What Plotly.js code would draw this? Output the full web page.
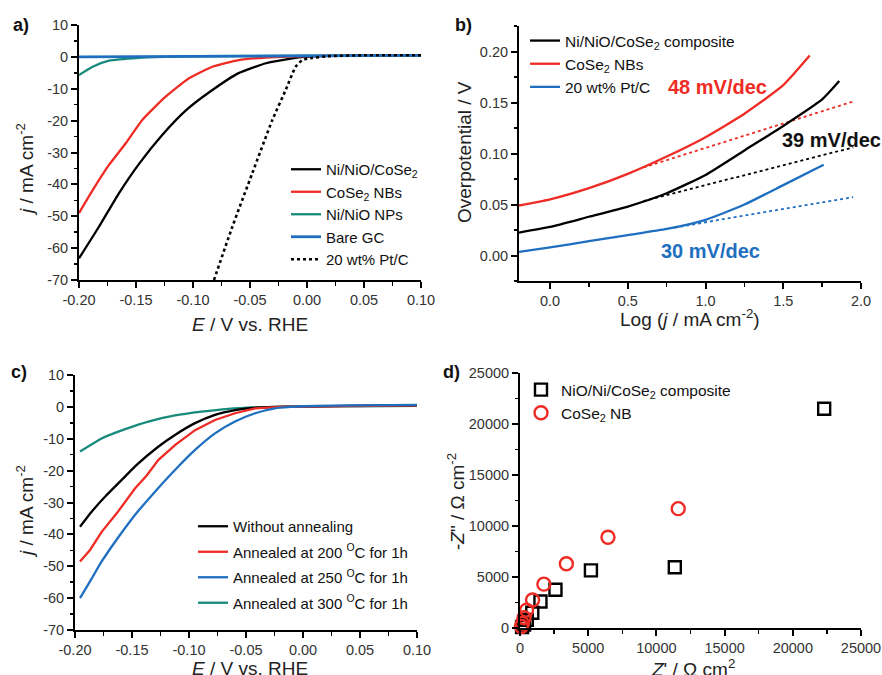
<!DOCTYPE html>
<html>
<head>
<meta charset="utf-8">
<script src="https://cdn.plot.ly/plotly-3.0.1.min.js"></script>
<style>html,body{margin:0;padding:0;background:#fff;}#chart{width:882px;height:675px;}</style>
</head>
<body>
<div id="chart"></div>
<script>
// ---------- Panel a: HER polarization curves ----------
const aE_comp = [-0.2,-0.1825,-0.165,-0.147,-0.127,-0.106,-0.083,-0.06,-0.036,-0.013,-0.005,0.02,0.05,0.1];
const aJ_comp = [-63.2,-53.3,-42.8,-33.4,-24.5,-16.7,-10.4,-5.1,-2.0,-0.45,-0.1,0.3,0.4,0.5];
const aE_nbs = [-0.2,-0.188,-0.1737,-0.159,-0.1445,-0.124,-0.1035,-0.083,-0.06,-0.036,-0.015,0.02,0.05,0.1];
const aJ_nbs = [-49,-41.8,-33.9,-27.1,-19.8,-12.5,-6.7,-3.1,-1.0,-0.2,0.1,0.3,0.4,0.5];
const aE_nio = [-0.2,-0.188,-0.1737,-0.1474,-0.125,-0.1,0,0.1];
const aJ_nio = [-5.7,-3.1,-1.2,-0.3,0,0.2,0.4,0.5];
const aE_gc = [-0.2,-0.1,0,0.1];
const aJ_gc = [0,0.1,0.3,0.5];
const aE_pt = [-0.0816,-0.0655,-0.048,-0.0304,-0.0187,-0.01,-0.004,0.0045,0.018,0.05,0.1];
const aJ_pt = [-70,-53.3,-36.5,-19.8,-10.4,-3.1,-1.0,-0.35,0.2,0.5,0.5];
const aXTicks = [-0.2,-0.15,-0.1,-0.05,0,0.05,0.1];
const aXTickText = ['-0.20','-0.15','-0.10','-0.05','0.00','0.05','0.10'];
const aYTicks = [10,0,-10,-20,-30,-40,-50,-60,-70];
const aYTickText = ['10','0','-10','-20','-30','-40','-50','-60','-70'];

// ---------- Panel b: Tafel plots ----------
const bX_comp = [-0.2,0,0.25,0.5,0.75,1.0,1.25,1.5,1.75,1.86];
const bY_comp = [0.0225,0.028,0.038,0.048,0.061,0.079,0.103,0.127,0.153,0.171];
const bX_nbs = [-0.2,0,0.25,0.5,0.75,1.0,1.25,1.5,1.67];
const bY_nbs = [0.049,0.055,0.066,0.080,0.097,0.116,0.139,0.167,0.196];
const bX_pt = [-0.2,0,0.25,0.5,0.75,1.0,1.25,1.5,1.76];
const bY_pt = [0.0035,0.008,0.014,0.020,0.026,0.035,0.050,0.069,0.089];
const bFitX_comp = [0.6,1.95];
const bFitY_comp = [0.0534,0.106];
const bFitX_nbs = [0.6,1.95];
const bFitY_nbs = [0.0863,0.151];
const bFitX_pt = [0.8,1.95];
const bFitY_pt = [0.0274,0.0573];
const bXTicks = [0,0.5,1,1.5,2];
const bXTickText = ['0.0','0.5','1.0','1.5','2.0'];
const bYTicks = [0,0.05,0.1,0.15,0.2];
const bYTickText = ['0.00','0.05','0.10','0.15','0.20'];
const bSlopes = ['48 mV/dec','39 mV/dec','30 mV/dec'];

// ---------- Panel c: annealing temperature ----------
const cE_none = [-0.1956,-0.1854,-0.1737,-0.159,-0.1459,-0.127,-0.1123,-0.0947,-0.0772,-0.0596,-0.045,-0.025,0,0.05,0.1];
const cJ_none = [-37.6,-32.9,-28.2,-22.9,-18.2,-12.5,-8.8,-5.1,-2.5,-1.0,-0.3,0,0.1,0.4,0.5];
const cE_200 = [-0.1956,-0.1868,-0.1766,-0.1634,-0.1474,-0.1371,-0.127,-0.1123,-0.0947,-0.0772,-0.0596,-0.042,-0.02,0,0.05,0.1];
const cJ_200 = [-48.5,-44.9,-39.2,-33.4,-25.6,-21.5,-16.7,-12,-7.3,-4.1,-2.0,-0.45,0,0.1,0.4,0.5];
const cE_250 = [-0.1956,-0.1854,-0.1766,-0.162,-0.1474,-0.1298,-0.1123,-0.0947,-0.0772,-0.0596,-0.042,-0.0246,-0.01,0,0.05,0.1];
const cJ_250 = [-60,-53.9,-48.5,-40.9,-33.9,-26.6,-19.8,-13.5,-8.3,-4.6,-2.0,-0.45,0,0.2,0.5,0.6];
const cE_300 = [-0.1956,-0.1766,-0.156,-0.1357,-0.1123,-0.089,-0.0655,-0.042,-0.02,0,0.05,0.1];
const cJ_300 = [-14,-9.9,-7.0,-4.6,-2.7,-1.5,-0.6,-0.15,0,0.1,0.2,0.3];
const cXTicks = aXTicks, cXTickText = aXTickText;
const cYTicks = aYTicks, cYTickText = aYTickText;

// ---------- Panel d: Nyquist plots ----------
const dZre_comp = [22300,11350,5200,2600,1500,900,500,300,150];
const dZim_comp = [21500,5950,5650,3750,2600,1500,800,350,100];
const dZre_nbs = [11600,6450,3400,1750,920,480,300,180,100];
const dZim_nbs = [11700,8900,6300,4300,2750,1750,1000,450,150];
const dTicks = [0,5000,10000,15000,20000,25000];
const dTickText = ['0','5000','10000','15000','20000','25000'];

const BLACK='#000000', RED='#ee2b24', TEAL='#178a7c', BLUE='#1f6fc0';
const FONT='Liberation Sans, Arial, sans-serif';
const W=882, H=675;
const px = v => v/W, py = v => 1 - v/H;

function ln(x,y,color,name,xa,ya,leg,extra){
  return Object.assign({type:'scatter',mode:'lines',x:x,y:y,name:name,xaxis:xa,yaxis:ya,legend:leg,
    line:{color:color,width:2.3,shape:'spline',smoothing:0.5},hoverinfo:'skip'},extra||{});
}

const traces = [
  ln(aE_comp,aJ_comp,BLACK,'Ni/NiO/CoSe<sub>2</sub>','x','y','legend'),
  ln(aE_nbs,aJ_nbs,RED,'CoSe<sub>2</sub> NBs','x','y','legend'),
  ln(aE_nio,aJ_nio,TEAL,'Ni/NiO NPs','x','y','legend'),
  ln(aE_gc,aJ_gc,BLUE,'Bare GC','x','y','legend',{line:{color:BLUE,width:2.8}}),
  ln(aE_pt,aJ_pt,BLACK,'20 wt% Pt/C','x','y','legend',{line:{color:BLACK,width:2.6,dash:'dot',shape:'spline',smoothing:0.5}}),

  ln(bFitX_comp,bFitY_comp,BLACK,'fit1','x2','y2','legend2',{showlegend:false,line:{color:BLACK,width:1.8,dash:'dot'}}),
  ln(bFitX_nbs,bFitY_nbs,RED,'fit2','x2','y2','legend2',{showlegend:false,line:{color:RED,width:1.8,dash:'dot'}}),
  ln(bFitX_pt,bFitY_pt,BLUE,'fit3','x2','y2','legend2',{showlegend:false,line:{color:BLUE,width:1.8,dash:'dot'}}),
  ln(bX_comp,bY_comp,BLACK,'Ni/NiO/CoSe<sub>2</sub> composite','x2','y2','legend2'),
  ln(bX_nbs,bY_nbs,RED,'CoSe<sub>2</sub> NBs','x2','y2','legend2'),
  ln(bX_pt,bY_pt,BLUE,'20 wt% Pt/C','x2','y2','legend2'),

  ln(cE_300,cJ_300,TEAL,'Annealed at 300 <sup>O</sup>C for 1h','x3','y3','legend3',{legendrank:4,legendgroup:'c4'}),
  ln(cE_none,cJ_none,BLACK,'Without annealing','x3','y3','legend3',{legendrank:1,legendgroup:'c1'}),
  ln(cE_200,cJ_200,RED,'Annealed at 200 <sup>O</sup>C for 1h','x3','y3','legend3',{legendrank:2,legendgroup:'c2',line:{color:RED,width:2.3,shape:'linear'}}),
  ln(cE_250,cJ_250,BLUE,'Annealed at 250 <sup>O</sup>C for 1h','x3','y3','legend3',{legendrank:3,legendgroup:'c3'}),

  {type:'scatter',mode:'markers',x:dZre_comp,y:dZim_comp,name:'NiO/Ni/CoSe<sub>2</sub> composite',xaxis:'x4',yaxis:'y4',legend:'legend4',cliponaxis:false,
   marker:{symbol:'square-open',size:12,color:BLACK,line:{width:2.4,color:BLACK}},hoverinfo:'skip'},
  {type:'scatter',mode:'markers',x:dZre_nbs,y:dZim_nbs,name:'CoSe<sub>2</sub> NB',xaxis:'x4',yaxis:'y4',legend:'legend4',cliponaxis:false,
   marker:{symbol:'circle-open',size:13,color:RED,line:{width:2.4,color:RED}},hoverinfo:'skip'}
];

function axis(domain, range, tickvals, ticktext, minorDtick, anchor){
  return {domain:domain, range:range, anchor:anchor, showline:true, linewidth:2, linecolor:'#000',
    ticks:'outside', ticklen:6, tickwidth:2, tickcolor:'#000', showgrid:false, zeroline:false,
    tickmode:'array', tickvals:tickvals, ticktext:ticktext,
    tickfont:{family:FONT,size:14.5,color:'#333'},
    minor:{ticks:'outside', ticklen:3.5, tickwidth:1.5, tickcolor:'#000', dtick:minorDtick, tick0:0, showgrid:false},
    fixedrange:true};
}

function ann(text,x,y,size,color,angle){
  return {text:text,x:px(x),y:py(y),xref:'paper',yref:'paper',xanchor:'center',yanchor:'middle',
    showarrow:false,textangle:angle||0,font:{family:FONT,size:size,color:color}};
}

const legFont = s => ({family:FONT,size:s,color:'#111'});

const layout = {
  width:W, height:H, margin:{l:0,r:0,t:0,b:0}, paper_bgcolor:'#fff', plot_bgcolor:'rgba(0,0,0,0)',
  font:{family:FONT,size:14,color:'#000'},
  xaxis: axis([px(79),px(421)],[-0.2,0.1],aXTicks,aXTickText,0.025,'y'),
  yaxis: axis([py(280),py(25)],[-70,10],aYTicks,aYTickText,5,'x'),
  xaxis2: axis([px(519),px(861)],[-0.2,2.0],bXTicks,bXTickText,0.25,'y2'),
  yaxis2: axis([py(281),py(26)],[-0.025,0.225],bYTicks,bYTickText,0.025,'x2'),
  xaxis3: axis([px(75),px(417)],[-0.2,0.1],cXTicks,cXTickText,0.025,'y3'),
  yaxis3: axis([py(630),py(375)],[-70,10],cYTicks,cYTickText,5,'x3'),
  xaxis4: axis([px(520),px(861)],[0,25000],dTicks,dTickText,2500,'y4'),
  yaxis4: axis([py(628),py(373)],[0,25000],dTicks,dTickText,2500,'x4'),
  legend:{x:px(286),y:py(153),xanchor:'left',yanchor:'top',bgcolor:'rgba(0,0,0,0)',font:legFont(15)},
  legend2:{x:px(525),y:py(24),xanchor:'left',yanchor:'top',bgcolor:'rgba(0,0,0,0)',font:legFont(15.5)},
  legend3:{x:px(193),y:py(510),xanchor:'left',yanchor:'top',bgcolor:'rgba(0,0,0,0)',font:legFont(15),traceorder:'grouped',tracegroupgap:3},
  legend4:{x:px(521),y:py(373),xanchor:'left',yanchor:'top',bgcolor:'rgba(0,0,0,0)',font:legFont(15.5)},
  annotations:[
    ann('<b>a)</b>',21,25,18,'#111'),
    ann('<b>b)</b>',464,25,18,'#111'),
    ann('<b>c)</b>',19,372,18,'#111'),
    ann('<b>d)</b>',451,372,18,'#111'),
    ann('<i>j</i> / mA cm<sup>-2</sup>',25,170,19,'#222',-90),
    ann('<i>E</i> / V vs. RHE',250,324,19,'#222'),
    ann('Overpotential / V',465,152,19,'#222',-90),
    ann('Log (<i>j</i> / mA cm<sup>-2</sup>)',690,318,19,'#222'),
    ann('<i>j</i> / mA cm<sup>-2</sup>',25,512,19,'#222',-90),
    ann('<i>E</i> / V vs. RHE',250,668,19,'#222'),
    ann('-<i>Z</i>" / Ω cm<sup>-2</sup>',456,502,19,'#222',-90),
    ann('<i>Z</i>\' / Ω cm<sup>2</sup>',693,668,19,'#222'),
    ann('<b>'+bSlopes[0]+'</b>',717,87,20,RED),
    ann('<b>'+bSlopes[1]+'</b>',831,140,20,'#111'),
    ann('<b>'+bSlopes[2]+'</b>',710,251,20,BLUE)
  ]
};

Plotly.newPlot('chart', traces, layout, {displayModeBar:false, staticPlot:true});
</script>
</body>
</html>
